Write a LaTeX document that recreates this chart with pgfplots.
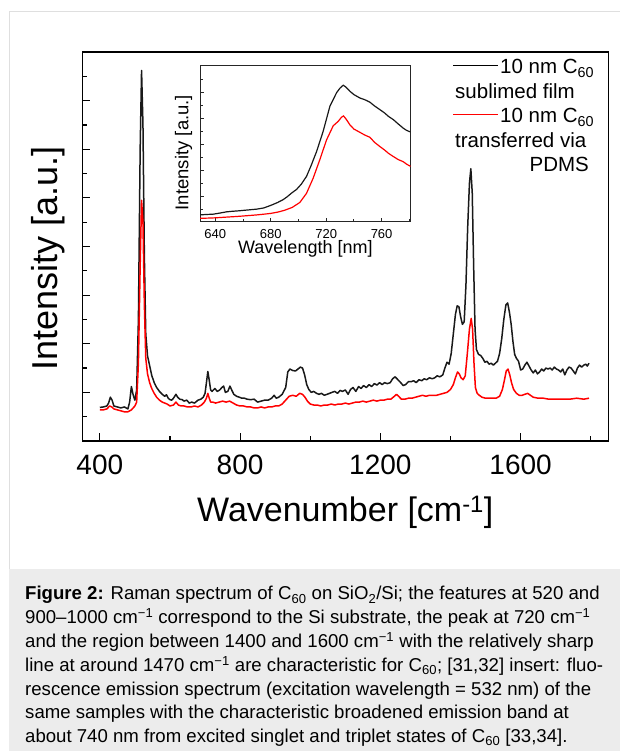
\documentclass[border=0pt]{standalone}
\usepackage{fontspec}
\setmainfont{Liberation Sans}
\usepackage{pgfplots}
\usepackage{pgfplotstable}
\pgfplotsset{compat=1.18}

% Raman spectra, intensity in units of one major y tick
\pgfplotstableread{
wn y
400 0.69
410 0.70
420 0.72
425 0.78
430 0.90
435 0.84
440 0.72
450 0.70
460 0.68
470 0.70
480 0.66
485 0.80
490 1.12
495 0.95
500 0.84
505 1.05
510 2.5
515 6.0
519 7.62
523 6.5
527 3.8
531 2.2
536 1.75
542 1.55
548 1.35
555 1.20
562 1.10
570 1.02
578 0.96
585 0.92
590 0.95
595 0.88
600 0.85
605 0.84
610 0.88
617 0.96
622 0.90
628 0.86
635 0.85
640 0.82
648 0.84
655 0.78
662 0.80
670 0.78
680 0.84
688 0.86
695 0.90
700 0.98
704 1.20
708 1.43
712 1.25
716 1.05
720 1.02
728 1.08
735 1.02
742 1.05
748 1.10
753 1.13
758 1.00
765 1.02
771 1.13
776 1.05
782 0.96
790 0.92
798 0.90
805 0.88
812 0.88
820 0.86
830 0.85
840 0.86
850 0.80
860 0.82
870 0.84
880 0.84
890 0.88
897 0.94
903 0.88
910 0.90
920 0.96
930 1.10
936 1.42
942 1.48
950 1.45
958 1.44
965 1.48
972 1.52
978 1.50
984 1.36
990 1.16
996 1.06
1003 1.00
1010 1.02
1018 0.98
1025 0.96
1032 0.98
1040 0.94
1048 0.96
1055 0.98
1062 1.00
1070 1.02
1078 0.98
1085 1.04
1092 1.02
1100 1.05
1108 0.96
1115 1.06
1122 1.10
1130 1.02
1138 1.12
1145 1.08
1152 1.14
1160 1.10
1168 1.16
1175 1.12
1183 1.18
1190 1.15
1198 1.20
1205 1.16
1212 1.20
1220 1.18
1228 1.20
1235 1.28
1242 1.32
1250 1.26
1258 1.20
1265 1.14
1272 1.16
1280 1.22
1288 1.22
1295 1.24
1302 1.20
1310 1.26
1318 1.24
1325 1.28
1332 1.26
1340 1.30
1348 1.28
1355 1.30
1362 1.34
1370 1.32
1378 1.36
1384 1.50
1390 1.62
1396 1.58
1402 1.80
1408 2.20
1414 2.60
1419 2.78
1424 2.76
1429 2.55
1434 2.40
1439 2.45
1444 3.2
1449 4.4
1454 5.3
1458 5.6
1462 5.1
1466 3.6
1470 2.3
1474 1.88
1480 1.78
1486 1.76
1492 1.70
1498 1.62
1504 1.64
1510 1.58
1516 1.60
1522 1.56
1528 1.60
1534 1.64
1540 1.80
1546 2.10
1552 2.50
1558 2.80
1563 2.84
1568 2.65
1573 2.40
1578 2.05
1583 1.78
1588 1.70
1594 1.64
1600 1.46
1606 1.48
1612 1.56
1618 1.62
1624 1.54
1630 1.46
1636 1.40
1642 1.46
1648 1.38
1654 1.42
1660 1.48
1666 1.44
1672 1.50
1678 1.48
1684 1.50
1690 1.46
1696 1.52
1702 1.48
1708 1.46
1714 1.42
1720 1.48
1726 1.36
1732 1.46
1738 1.52
1744 1.50
1750 1.44
1756 1.38
1762 1.50
1768 1.56
1774 1.52
1780 1.56
1786 1.58
1790 1.54
1795 1.60
}\ramansublimed

\pgfplotstableread{
wn y
400 0.64
410 0.64
420 0.66
428 0.72
434 0.70
440 0.66
450 0.64
460 0.62
470 0.60
480 0.60
490 0.64
500 0.72
505 0.80
510 1.6
515 3.6
519 4.95
523 4.5
527 2.8
531 1.7
536 1.38
542 1.20
548 1.08
555 0.98
562 0.90
570 0.84
578 0.80
585 0.78
592 0.76
600 0.72
610 0.74
617 0.80
624 0.74
632 0.72
640 0.72
650 0.70
660 0.70
670 0.72
680 0.70
690 0.74
698 0.80
704 0.88
708 0.98
712 0.88
716 0.80
722 0.80
730 0.78
740 0.80
750 0.82
760 0.80
770 0.82
780 0.78
790 0.74
800 0.72
810 0.72
820 0.70
830 0.70
840 0.68
850 0.68
860 0.70
870 0.68
880 0.70
890 0.70
900 0.72
910 0.72
920 0.76
930 0.84
940 0.92
950 0.94
960 0.92
970 0.98
978 0.96
985 0.90
992 0.82
1000 0.76
1010 0.74
1020 0.74
1030 0.72
1040 0.74
1050 0.74
1060 0.76
1070 0.74
1080 0.76
1090 0.76
1100 0.78
1110 0.76
1120 0.78
1130 0.80
1140 0.80
1150 0.82
1160 0.80
1170 0.82
1180 0.84
1190 0.82
1200 0.84
1210 0.84
1220 0.86
1230 0.86
1240 0.92
1246 0.96
1252 0.92
1260 0.86
1270 0.86
1280 0.88
1290 0.88
1300 0.90
1310 0.92
1320 0.94
1330 0.92
1340 0.94
1350 0.94
1360 0.94
1370 0.96
1380 0.98
1390 1.00
1400 1.06
1408 1.16
1414 1.30
1420 1.42
1425 1.38
1430 1.30
1436 1.26
1442 1.34
1448 1.80
1454 2.30
1459 2.52
1463 2.30
1467 1.60
1471 1.10
1476 0.98
1482 0.94
1490 0.90
1500 0.88
1510 0.88
1520 0.88
1530 0.88
1540 0.92
1548 1.06
1554 1.26
1559 1.44
1564 1.48
1569 1.36
1574 1.20
1580 1.06
1588 0.98
1596 0.94
1604 0.94
1612 0.96
1620 0.98
1628 0.94
1636 0.90
1650 0.88
1665 0.88
1680 0.86
1700 0.86
1720 0.86
1740 0.86
1760 0.88
1780 0.86
1795 0.88
}\ramantransferred

% fluorescence spectra (insert)
\pgfplotstableread{
nm y
629.3 0.55
634 0.58
638.4 0.60
643 0.68
648.1 0.78
652 0.82
657 0.86
661 0.90
665 0.94
670 0.99
675 1.08
680.6 1.30
685 1.50
689 1.72
692 1.95
695 2.22
698.6 2.50
702 2.90
705.8 3.50
709 4.30
713.1 5.42
717.8 6.96
722.7 8.90
727.5 9.94
730 10.30
732.3 10.52
734 10.40
737.1 10.06
740 9.80
744.3 9.54
748 9.40
751.5 9.22
755 8.92
758.8 8.64
762 8.40
765 8.12
768.4 7.88
772 7.54
775.6 7.22
778 7.05
780.9 6.92
}\flsublimed

\pgfplotstableread{
nm y
629.1 0.28
635 0.30
640 0.32
648.8 0.38
655 0.42
660 0.46
669.5 0.54
675 0.60
680 0.66
685.1 0.76
690 0.90
695.5 1.12
701 1.50
705.8 2.20
710.6 3.36
715.4 4.78
720.3 6.32
725.1 7.40
728.7 7.74
731 8.05
732.5 8.16
734.5 7.90
737.1 7.48
740 7.15
744.3 6.90
748 6.68
751.5 6.52
755 6.12
758.8 5.80
762 5.55
765 5.28
768.4 5.04
772 4.80
775.6 4.64
778 4.45
780.9 4.28
}\fltransferred

\begin{document}
\begin{tikzpicture}
\path[use as bounding box] (0,0) rectangle (620pt,751pt);
\fill[white] (0,0) rectangle (620pt,751pt);
\draw[gray!25, line width=1pt] (9.5pt,182pt) -- (9.5pt,739pt) -- (620pt,739pt);
\fill[gray!15] (9pt,0) rectangle (620pt,182pt);

\begin{axis}[
  at={(82.3pt,310pt)}, anchor=south west,
  scale only axis, width=526pt, height=389pt,
  xmin=350, xmax=1850, ymin=0, ymax=8,
  axis line style={line width=1.3pt},
  tick align=inside, xtick pos=bottom, ytick pos=left,
  xtick={400,800,1200,1600}, minor xtick={600,1000,1400,1800},
  ytick={1,2,...,7}, minor ytick={0.5,1.5,...,7.5},
  yticklabels={},
  major tick length=8pt, minor tick length=4.5pt,
  tick style={black, line width=1.2pt},
  xticklabel style={font=\fontsize{28}{30}\selectfont, inner sep=0pt, yshift=-14pt,
    /pgf/number format/assume math mode=true, /pgf/number format/1000 sep={}},
  xlabel={Wavenumber [cm\textsuperscript{-1}]},
  xlabel style={at={(axis description cs:0.5,0)}, anchor=base, yshift=-81pt,
    inner sep=0pt, font=\fontsize{34}{38}\selectfont},
  ylabel={Intensity [a.u.]},
  ylabel style={at={(axis description cs:-0.0475,0.47)}, anchor=base,
    inner sep=0pt, font=\fontsize{36}{40}\selectfont},
]
\addplot[black!90, line width=1.5pt, line join=round] table[x=wn, y=y] {\ramansublimed};
\addplot[red, line width=1.5pt, line join=round] table[x=wn, y=y] {\ramantransferred};
\end{axis}

\begin{axis}[
  at={(200pt,529pt)}, anchor=south west,
  scale only axis, width=210.7pt, height=156pt,
  xmin=629, xmax=781, ymin=0, ymax=12,
  axis background/.style={fill=white},
  axis line style={line width=1pt, black!85},
  tick align=inside, xtick pos=bottom, ytick pos=left,
  xtick={640,680,720,760}, minor xtick={660,700,740,780},
  ytick={2,4,...,10}, minor ytick={1,3,...,11},
  yticklabels={},
  major tick length=4pt, minor tick length=2.5pt,
  tick style={black!85, line width=0.8pt},
  xticklabel style={font=\fontsize{13}{15}\selectfont, inner sep=0pt, yshift=-7pt,
    /pgf/number format/assume math mode=true},
  xlabel={Wavelength [nm]},
  xlabel style={at={(axis description cs:0.5,0)}, anchor=base, yshift=-32pt,
    inner sep=0pt, font=\fontsize{18}{20}\selectfont},
  ylabel={Intensity [a.u.]},
  ylabel style={at={(axis description cs:-0.0555,0.445)}, anchor=base,
    inner sep=0pt, font=\fontsize{18.5}{20}\selectfont},
]
\addplot[black!90, line width=1.2pt] table[x=nm, y=y] {\flsublimed};
\addplot[red, line width=1.2pt] table[x=nm, y=y] {\fltransferred};
\end{axis}

% legend
\begin{scope}[every node/.style={inner sep=0pt, font=\fontsize{20.5}{24.5}\selectfont}]
\node[anchor=base west] at (453pt,677pt) {{\color{black}\rule[7.5pt]{45pt}{1.1pt}}\hspace{2pt}10 nm C\textsubscript{60}};
\node[anchor=base west] at (455pt,652.5pt) {sublimed film};
\node[anchor=base west] at (453pt,628pt) {{\color{red}\rule[7.5pt]{45pt}{1.1pt}}\hspace{2pt}10 nm C\textsubscript{60}};
\node[anchor=base west] at (455pt,603.5pt) {transferred via};
\node[anchor=base east] at (589pt,579pt) {PDMS};
\end{scope}

% caption
\begin{scope}[every node/.style={inner sep=0pt, anchor=base west, font=\fontsize{18.6}{23.8}\selectfont}]
\node at (25pt,151pt) {\textbf{Figure 2:} Raman spectrum of C\textsubscript{60} on SiO\textsubscript{2}/Si; the features at 520 and};
\node at (25pt,127.2pt) {900–1000 cm\textsuperscript{−1} correspond to the Si substrate, the peak at 720 cm\textsuperscript{−1}};
\node at (25pt,103.4pt) {and the region between 1400 and 1600 cm\textsuperscript{−1} with the relatively sharp};
\node at (25pt,79.6pt) {line at around 1470 cm\textsuperscript{−1} are characteristic for C\textsubscript{60}; [31,32] insert: fluo-};
\node at (25pt,55.8pt) {rescence emission spectrum (excitation wavelength = 532 nm) of the};
\node at (25pt,32pt) {same samples with the characteristic broadened emission band at};
\node at (25pt,8.2pt) {about 740 nm from excited singlet and triplet states of C\textsubscript{60} [33,34].};
\end{scope}
\end{tikzpicture}
\end{document}
